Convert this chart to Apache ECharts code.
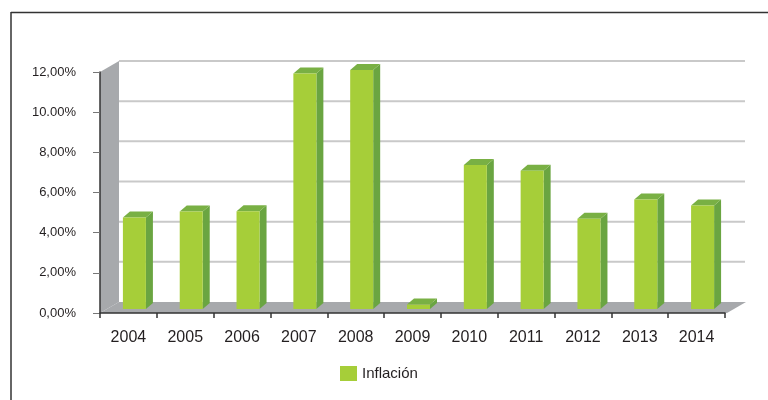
<!DOCTYPE html>
<html>
<head>
<meta charset="utf-8">
<style>
  html, body { margin: 0; padding: 0; background: #ffffff; }
  #chart { width: 768px; height: 400px; }
</style>
<script src="https://cdn.jsdelivr.net/npm/echarts@6/dist/echarts.min.js"></script>
</head>
<body>
<div id="chart"></div>
<script>
// ---- data ----
const years = ['2004', '2005', '2006', '2007', '2008', '2009', '2010', '2011', '2012', '2013', '2014'];
const inflation = [4.55, 4.85, 4.87, 11.72, 11.9, 0.22, 7.17, 6.88, 4.5, 5.45, 5.15];
const yTickValues = [0, 2, 4, 6, 8, 10, 12];
const yTickLabels = ['0,00%', '2,00%', '4,00%', '6,00%', '8,00%', '10.00%', '12,00%'];
const seriesName = 'Inflación';

// ---- styles ----
const FONT = '"Liberation Sans", Arial, sans-serif';
const TEXT = '#231f20';
const WALL = '#a7a9ac';
const GRIDLINE = '#c9c9c9';
const FRONT = '#a6ce39';
const SIDE = '#6aa541';
const TOP = '#79b044';
const DX = 19, DY = -11;            // wall depth
const BDX = 7, BDY = -6;            // bar depth
const BAR_SHIFT_X = 6, BAR_SHIFT_Y = -4;
const BAR_W = 23;

const chart = echarts.init(document.getElementById('chart'), null, { renderer: 'canvas' });

function renderWalls(params, api) {
  const cs = params.coordSys;
  const x0 = cs.x, x1 = cs.x + cs.width;
  const yb = api.coord([0, 0])[1];
  const yt = api.coord([0, 12])[1];
  const children = [];
  // side wall
  children.push({
    type: 'polygon',
    shape: { points: [[x0, yb], [x0, yt], [x0 + DX, yt + DY], [x0 + DX, yb + DY]] },
    style: { fill: WALL }
  });
  // floor
  children.push({
    type: 'polygon',
    shape: { points: [[x0, yb], [x1 + 2, yb], [x1 + 2 + DX, yb + DY], [x0 + DX, yb + DY]] },
    style: { fill: WALL }
  });
  // back wall gridlines
  yTickValues.forEach(function (v) {
    if (v === 0) return;
    const y = api.coord([0, v])[1] + DY;
    children.push({
      type: 'line',
      shape: { x1: x0 + DX, y1: y, x2: x1 + DX + 1, y2: y },
      style: { stroke: GRIDLINE, lineWidth: 2 }
    });
  });
  return { type: 'group', children: children };
}

function renderBar(params, api) {
  const idx = api.value(0);
  const val = api.value(1);
  const pTop = api.coord([idx, val]);
  const pBot = api.coord([idx, 0]);
  const cx = pTop[0] + BAR_SHIFT_X;
  const l = cx - BAR_W / 2, r = cx + BAR_W / 2;
  const top = pTop[1] + BAR_SHIFT_Y;
  const bot = pBot[1] + BAR_SHIFT_Y;
  return {
    type: 'group',
    children: [
      { type: 'polygon', shape: { points: [[r, bot], [r + BDX, bot + BDY], [r + BDX, top + BDY], [r, top]] }, style: { fill: SIDE } },
      { type: 'polygon', shape: { points: [[l, top], [l + BDX, top + BDY], [r + BDX, top + BDY], [r, top]] }, style: { fill: TOP } },
      { type: 'rect', shape: { x: l, y: top, width: BAR_W, height: bot - top }, style: { fill: FRONT } }
    ]
  };
}

const option = {
  backgroundColor: '#ffffff',
  animation: false,
  grid: { left: 100, right: 43, top: 72, bottom: 87 },
  graphic: [
    { type: 'line', shape: { x1: 11, y1: 12.5, x2: 768, y2: 12.5 }, style: { stroke: '#333333', lineWidth: 1.5 }, z: 100 },
    { type: 'line', shape: { x1: 11, y1: 12, x2: 11, y2: 400 }, style: { stroke: '#333333', lineWidth: 1.5 }, z: 100 }
  ],
  legend: {
    data: [seriesName],
    left: 340,
    top: 366,
    padding: 0,
    icon: 'rect',
    itemWidth: 17,
    itemHeight: 15,
    itemGap: 10,
    textStyle: { fontFamily: FONT, fontSize: 15, color: TEXT }
  },
  xAxis: {
    type: 'category',
    data: years,
    z: 10,
    axisLine: { show: true, lineStyle: { color: '#333333', width: 1.5 } },
    axisTick: { show: true, length: 5, lineStyle: { color: '#333333', width: 1.5 } },
    axisLabel: { fontFamily: FONT, fontSize: 16, color: TEXT, margin: 17 },
    splitLine: { show: false }
  },
  yAxis: {
    type: 'value',
    min: 0,
    max: 12,
    interval: 2,
    z: 10,
    axisLine: { show: true, lineStyle: { color: '#333333', width: 1.5 } },
    axisTick: { show: true, length: 7, lineStyle: { color: '#777777', width: 1 } },
    axisLabel: {
      fontFamily: FONT, fontSize: 13, color: TEXT, margin: 24,
      formatter: function (v) {
        const i = yTickValues.indexOf(v);
        return i >= 0 ? yTickLabels[i] : '';
      }
    },
    splitLine: { show: false }
  },
  series: [
    {
      type: 'custom',
      name: 'walls',
      data: [[0, 0]],
      renderItem: renderWalls,
      silent: true,
      z: 1
    },
    {
      type: 'custom',
      name: seriesName,
      itemStyle: { color: FRONT },
      data: inflation.map(function (v, i) { return [i, v]; }),
      encode: { x: 0, y: 1 },
      renderItem: renderBar,
      z: 2
    }
  ]
};

chart.setOption(option);
</script>
</body>
</html>
